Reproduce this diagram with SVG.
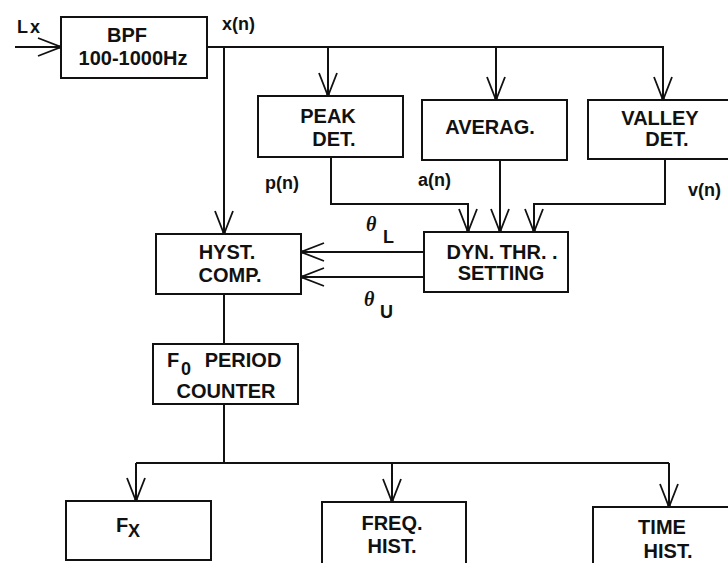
<svg xmlns="http://www.w3.org/2000/svg" width="728" height="563" viewBox="0 0 728 563">
<defs>
<style>
.box{fill:#fff;stroke:#111;stroke-width:2}
.ln{fill:none;stroke:#111;stroke-width:2}
.t{font-family:"Liberation Sans",Arial,sans-serif;font-weight:bold;font-size:20px;fill:#111;text-anchor:middle}
.s{font-family:"Liberation Sans",Arial,sans-serif;font-weight:bold;font-size:18px;fill:#111}
.th{font-family:"Liberation Serif","DejaVu Serif",serif;font-weight:bold;font-style:italic;font-size:20px;fill:#111}
</style>
<marker id="ah" viewBox="-26 -11 28 22" refX="0" refY="0" markerWidth="28" markerHeight="22" markerUnits="userSpaceOnUse" orient="auto">
<path d="M-23,-9 L0,0 L-23,9" fill="none" stroke="#111" stroke-width="1.8"/>
<circle cx="-1" cy="0" r="1.8" fill="#111"/>
</marker>
</defs>
<rect width="728" height="563" fill="#fff"/>
<g id="connectors">
<path class="ln" d="M15,47 H61" marker-end="url(#ah)"/>
<path class="ln" d="M207,47 H663 V100" marker-end="url(#ah)"/>
<path class="ln" d="M328,47 V96" marker-end="url(#ah)"/>
<path class="ln" d="M496,47 V100" marker-end="url(#ah)"/>
<path class="ln" d="M224,47 V234" marker-end="url(#ah)"/>
<path class="ln" d="M331,157 V204 H468 V232" marker-end="url(#ah)"/>
<path class="ln" d="M500,160 V232" marker-end="url(#ah)"/>
<path class="ln" d="M665,159 V204 H534 V232" marker-end="url(#ah)"/>
<path class="ln" d="M424,252 H301" marker-end="url(#ah)"/>
<path class="ln" d="M424,277 H301" marker-end="url(#ah)"/>
<path class="ln" d="M224,294 V344"/>
<path class="ln" d="M224,404 V463"/>
<path class="ln" d="M136,463 H669"/>
<path class="ln" d="M136,463 V501" marker-end="url(#ah)"/>
<path class="ln" d="M392,463 V502" marker-end="url(#ah)"/>
<path class="ln" d="M669,463 V507" marker-end="url(#ah)"/>
</g>
<g id="labels">
<text class="s" x="17" y="33" letter-spacing="2">Lx</text>
<text class="s" x="222" y="30">x(n)</text>
<text class="s" x="265" y="189">p(n)</text>
<text class="s" x="418" y="186">a(n)</text>
<text class="s" x="688" y="196">v(n)</text>
<text class="th" x="366" y="231">θ</text>
<text class="s" x="383" y="243">L</text>
<text class="th" x="364" y="306">θ</text>
<text class="s" x="380" y="318">U</text>
</g>
<g id="bpf">
<rect class="box" x="61" y="17" width="146" height="61"/>
<text class="t" x="127" y="42">BPF</text>
<text class="t" x="133" y="65">100-1000Hz</text>
</g>
<g id="peak">
<rect class="box" x="258" y="96" width="145" height="61"/>
<text class="t" x="328" y="123">PEAK</text>
<text class="t" x="334" y="146">DET.</text>
</g>
<g id="averag">
<rect class="box" x="422" y="100" width="145" height="60"/>
<text class="t" x="490" y="134">AVERAG.</text>
</g>
<g id="valley">
<rect class="box" x="588" y="100" width="150" height="59"/>
<text class="t" x="660" y="125">VALLEY</text>
<text class="t" x="667" y="146">DET.</text>
</g>
<g id="hyst">
<rect class="box" x="156" y="234" width="145" height="60"/>
<text class="t" x="227" y="259">HYST.</text>
<text class="t" x="230" y="282">COMP.</text>
</g>
<g id="dyn">
<rect class="box" x="424" y="232" width="144" height="60"/>
<text class="t" x="502" y="259">DYN. THR. .</text>
<text class="t" x="501" y="280">SETTING</text>
</g>
<g id="counter">
<rect class="box" x="153" y="344" width="145" height="60"/>
<text class="t" x="173" y="367">F</text>
<text class="s" x="181" y="375" font-size="13">0</text>
<text class="t" x="243" y="367">PERIOD</text>
<text class="t" x="226" y="398">COUNTER</text>
</g>
<g id="fx">
<rect class="box" x="66" y="501" width="145" height="59"/>
<text class="t" x="122" y="532">F</text>
<text class="s" x="128" y="537" font-size="15">X</text>
</g>
<g id="freq">
<rect class="box" x="322" y="502" width="144" height="65"/>
<text class="t" x="392" y="530">FREQ.</text>
<text class="t" x="392" y="553">HIST.</text>
</g>
<g id="time">
<rect class="box" x="593" y="507" width="150" height="65"/>
<text class="t" x="662" y="534">TIME</text>
<text class="t" x="668" y="558">HIST.</text>
</g>
</svg>
